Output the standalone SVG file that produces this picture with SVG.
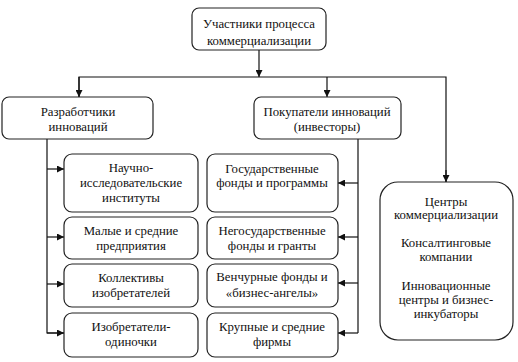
<svg xmlns="http://www.w3.org/2000/svg" width="518" height="362" viewBox="0 0 518 362">
<style>
.b{fill:#fff;stroke:#222;stroke-width:1.2}
.c{fill:none;stroke:#111;stroke-width:1.2}
text{font-family:"Liberation Serif","Times New Roman",serif;font-size:12.8px;fill:#111;text-anchor:middle}
</style>
<defs>
<marker id="a" viewBox="0 0 8 8" refX="8" refY="4" markerWidth="7" markerHeight="7" markerUnits="userSpaceOnUse" orient="auto">
<path d="M0,0 L8,4 L0,8 Z" fill="#111"/>
</marker>
</defs>
<rect width="518" height="362" fill="#fff"/>
<g id="connectors">
<path class="c" d="M259,50 V77" marker-end="url(#a)"/>
<path class="c" d="M79,97 V77 H446 V182"/>
<path class="c" d="M79,77 V97" marker-end="url(#a)"/>
<path class="c" d="M327,77 V97" marker-end="url(#a)"/>
<path class="c" d="M446,170 V182" marker-end="url(#a)"/>
<path class="c" d="M47,139 V333 H64"/>
<path class="c" d="M47,169 H64" marker-end="url(#a)"/>
<path class="c" d="M47,237 H64" marker-end="url(#a)"/>
<path class="c" d="M47,284 H64" marker-end="url(#a)"/>
<path class="c" d="M47,333 H64" marker-end="url(#a)"/>
<path class="c" d="M358,139 V333"/>
<path class="c" d="M358,183 H338" marker-end="url(#a)"/>
<path class="c" d="M358,237 H338" marker-end="url(#a)"/>
<path class="c" d="M358,283 H338" marker-end="url(#a)"/>
<path class="c" d="M358,333 H338" marker-end="url(#a)"/>
</g>
<g id="root"><rect class="b" x="192" y="8" width="134" height="42" rx="7"/>
<text x="259" y="28">Участники процесса</text><text x="259" y="45">коммерциализации</text></g>
<g id="dev"><rect class="b" x="2" y="97" width="151" height="42" rx="7"/>
<text x="78" y="116">Разработчики</text><text x="78" y="131">инноваций</text></g>
<g id="buy"><rect class="b" x="254" y="97" width="147" height="42" rx="7"/>
<text x="327" y="116">Покупатели инноваций</text><text x="327" y="131">(инвесторы)</text></g>
<g id="l1"><rect class="b" x="64" y="154" width="134" height="58" rx="8"/>
<text x="131" y="172">Научно-</text><text x="131" y="187">исследовательские</text><text x="131" y="202">институты</text></g>
<g id="l2"><rect class="b" x="64" y="217" width="134" height="42" rx="8"/>
<text x="131" y="235">Малые и средние</text><text x="131" y="250">предприятия</text></g>
<g id="l3"><rect class="b" x="64" y="264" width="134" height="43" rx="8"/>
<text x="131" y="282">Коллективы</text><text x="131" y="297">изобретателей</text></g>
<g id="l4"><rect class="b" x="64" y="313" width="134" height="44" rx="8"/>
<text x="131" y="331">Изобретатели-</text><text x="131" y="346">одиночки</text></g>
<g id="m1"><rect class="b" x="207" y="154" width="131" height="58" rx="8"/>
<text x="272" y="173">Государственные</text><text x="272" y="187">фонды и программы</text></g>
<g id="m2"><rect class="b" x="207" y="217" width="131" height="42" rx="8"/>
<text x="272" y="235">Негосударственные</text><text x="272" y="250">фонды и гранты</text></g>
<g id="m3"><rect class="b" x="207" y="264" width="131" height="43" rx="8"/>
<text x="272" y="281">Венчурные фонды и</text><text x="272" y="297">«бизнес-ангелы»</text></g>
<g id="m4"><rect class="b" x="207" y="313" width="131" height="44" rx="8"/>
<text x="272" y="331">Крупные и средние</text><text x="272" y="346">фирмы</text></g>
<g id="right"><rect class="b" x="380" y="182" width="133" height="158" rx="18"/>
<text x="446" y="206">Центры</text><text x="446" y="219">коммерциализации</text>
<text x="446" y="247">Консалтинговые</text><text x="446" y="261">компании</text>
<text x="446" y="290">Инновационные</text><text x="446" y="304">центры и бизнес-</text><text x="446" y="318">инкубаторы</text></g>
</svg>
